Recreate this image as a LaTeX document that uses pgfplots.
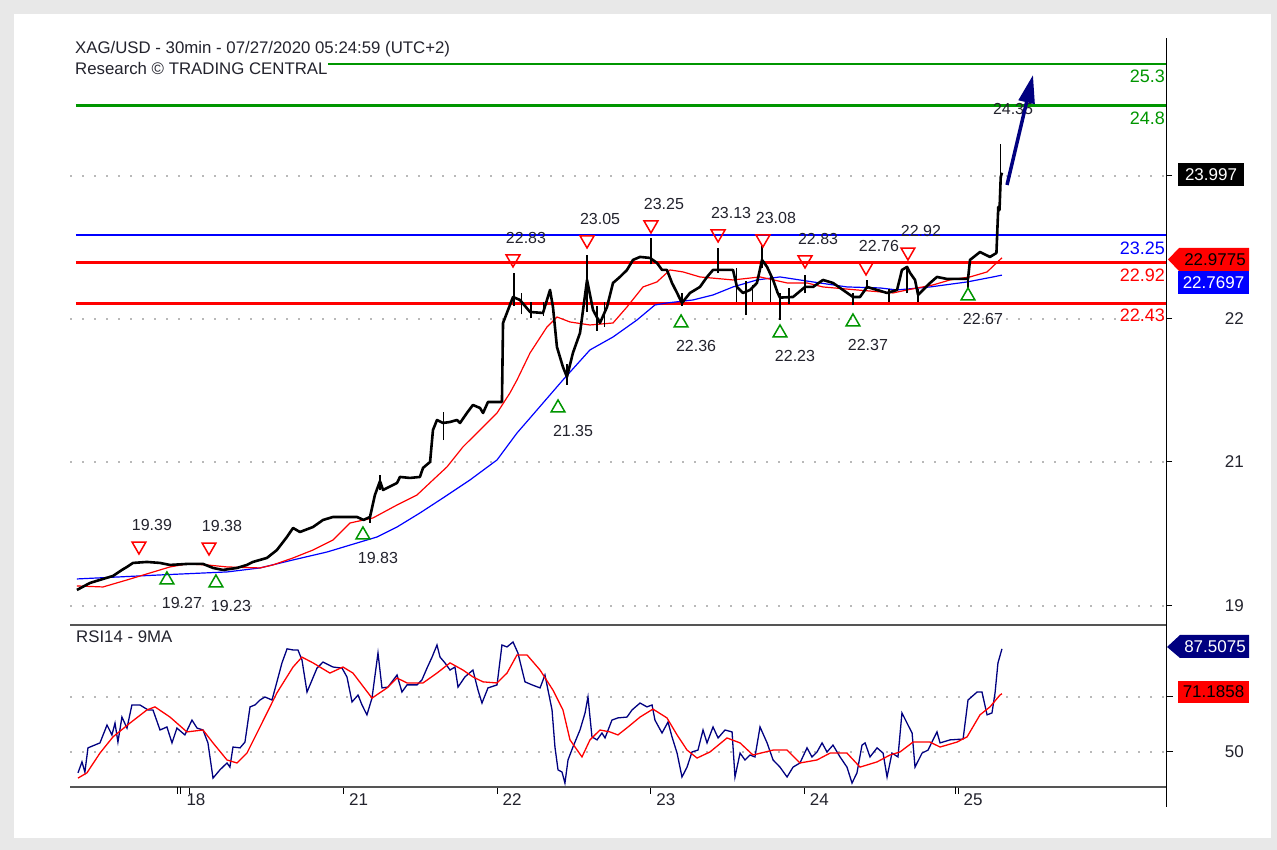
\documentclass[border=0pt]{standalone}
\usepackage{pgfplots}
\pgfplotsset{compat=1.18}
\usepackage{fontspec}
\setmainfont{Liberation Sans}
\usetikzlibrary{arrows.meta}
\definecolor{tcgreen}{RGB}{0,150,0}
\definecolor{tcblue}{RGB}{0,0,255}
\definecolor{tcred}{RGB}{255,0,0}
\definecolor{tcnavy}{RGB}{0,0,128}
\definecolor{framegray}{RGB}{232,232,232}
\definecolor{axgray}{RGB}{85,85,85}
\definecolor{txt}{RGB}{35,35,45}
\newcommand{\fA}{\fontsize{16}{18}\selectfont}
\newcommand{\fT}{\fontsize{16.8}{19}\selectfont}
\newcommand{\fB}{\fontsize{18}{20}\selectfont}
\newcommand{\fC}{\fontsize{17}{19}\selectfont}
\begin{document}
\begin{tikzpicture}[x=1pt,y=1pt]
\fill[framegray] (0,0) rectangle (1277,850);
\fill[white] (14,12) rectangle (1271,836);
% ================= upper panel =================
\begin{axis}[
  at={(70pt,225pt)}, anchor=south west, scale only axis,
  width=1096pt, height=587pt,
  xmin=-0.781, xmax=6.354, ymin=18.575, ymax=25.613,
  axis x line*=bottom, axis y line*=right,
  x axis line style={-, draw=axgray, line width=2pt},
  y axis line style={-, draw=black, line width=1pt},
  xtick=\empty,
  ytick={18.803,20.53,22.244,23.959}, yticklabels={},
  tick align=outside, major tick length=6pt,
  tick style={black, line width=1pt},
  ymajorgrids, grid style={gray!55, line width=1.6pt, dash pattern=on 1.6pt off 10.4pt},
  clip=false, unbounded coords=jump,
]
% support / resistance levels
\addplot[tcgreen, line width=2.8pt] coordinates {(0.898,25.3) (6.354,25.3)};
\addplot[tcgreen, line width=2.8pt] coordinates {(-0.742,24.8) (6.354,24.8)};
\addplot[tcblue, line width=2.8pt] coordinates {(-0.742,23.25) (6.354,23.25)};
\addplot[tcred, line width=2.8pt] coordinates {(-0.742,22.92) (6.354,22.92)};
\addplot[tcred, line width=2.8pt] coordinates {(-0.742,22.43) (6.354,22.43)};
% moving averages
\addplot[blue, line width=1.2pt] coordinates {
(-0.736,19.127) (-0.195,19.175) (0.241,19.211) (0.456,19.259) (0.671,19.355)
(0.892,19.450) (1.087,19.558) (1.217,19.630) (1.348,19.750) (1.497,19.918)
(1.647,20.098) (1.823,20.314) (1.999,20.554) (2.129,20.877) (2.214,21.057)
(2.428,21.513) (2.604,21.873) (2.754,22.028) (2.910,22.232) (3.027,22.412)
(3.105,22.436) (3.275,22.472) (3.405,22.532) (3.535,22.628) (3.691,22.712)
(3.841,22.748) (4.056,22.688) (4.277,22.628) (4.492,22.616) (4.603,22.592)
(4.818,22.628) (5.059,22.688) (5.228,22.748) (5.286,22.770)};
\addplot[red, line width=1.2pt] coordinates {
(-0.736,19.043) (-0.566,19.031) (-0.410,19.115) (-0.260,19.199) (-0.130,19.271)
(-0.020,19.307) (0.111,19.295) (0.241,19.271) (0.456,19.259) (0.540,19.295)
(0.671,19.379) (0.801,19.474) (0.931,19.594) (1.042,19.798) (1.191,19.858)
(1.348,20.014) (1.478,20.134) (1.582,20.314) (1.673,20.470) (1.777,20.710)
(1.888,20.913) (1.999,21.117) (2.083,21.357) (2.129,21.513) (2.214,21.837)
(2.324,22.148) (2.389,22.268) (2.474,22.208) (2.604,22.172) (2.754,22.196)
(2.845,22.388) (2.949,22.628) (3.040,22.688) (3.125,22.832) (3.210,22.808)
(3.320,22.748) (3.535,22.712) (3.711,22.748) (3.887,22.676) (4.017,22.676)
(4.121,22.628) (4.342,22.592) (4.577,22.556) (4.668,22.592) (4.837,22.652)
(4.948,22.712) (5.078,22.748) (5.189,22.808) (5.286,22.978)};
% price wicks (30 min high-low ranges)
\addplot[black, line width=1.2pt] coordinates {
(1.237,20.19) (1.237,20.374) (1.24,nan)
(1.172,19.80) (1.172,19.90) (1.18,nan)
(1.650,20.79) (1.650,21.13) (1.66,nan)
(2.109,22.40) (2.109,22.796) (2.11,nan)
(2.160,22.30) (2.160,22.55) (2.17,nan)
(2.220,22.25) (2.220,22.45) (2.23,nan)
(2.300,22.28) (2.300,22.45) (2.31,nan)
(2.454,21.453) (2.454,21.70) (2.46,nan)
(2.585,22.33) (2.585,23.012) (2.59,nan)
(2.650,22.10) (2.650,22.40) (2.66,nan)
(2.700,22.15) (2.700,22.45) (2.71,nan)
(3.001,22.90) (3.001,23.215) (3.01,nan)
(3.203,22.40) (3.203,22.55) (3.21,nan)
(3.438,22.80) (3.438,23.095) (3.44,nan)
(3.560,22.45) (3.560,22.85) (3.57,nan)
(3.620,22.29) (3.620,22.70) (3.63,nan)
(3.660,22.45) (3.660,22.65) (3.67,nan)
(3.724,22.85) (3.724,23.131) (3.73,nan)
(3.780,22.45) (3.780,22.80) (3.79,nan)
(3.841,22.232) (3.841,22.55) (3.85,nan)
(3.900,22.42) (3.900,22.62) (3.91,nan)
(4.004,22.55) (4.004,22.772) (4.01,nan)
(4.316,22.41) (4.316,22.55) (4.32,nan)
(4.408,22.60) (4.408,22.71) (4.41,nan)
(4.550,22.45) (4.550,22.60) (4.56,nan)
(4.668,22.55) (4.668,22.87) (4.67,nan)
(4.740,22.45) (4.740,22.60) (4.75,nan)
(5.065,22.59) (5.065,22.75) (5.07,nan)
(5.276,23.60) (5.276,24.342)};
% price (30 min closes)
\addplot[black, line width=2.6pt, line join=round] coordinates {
(-0.736,18.995) (-0.651,19.079) (-0.566,19.127) (-0.501,19.163) (-0.443,19.235)
(-0.410,19.271) (-0.371,19.319) (-0.280,19.331) (-0.195,19.319) (-0.130,19.295)
(-0.020,19.307) (0.085,19.307) (0.150,19.259) (0.215,19.235) (0.306,19.259)
(0.371,19.295) (0.410,19.331) (0.501,19.379) (0.566,19.474) (0.631,19.630)
(0.671,19.738) (0.716,19.690) (0.801,19.750) (0.866,19.834) (0.931,19.870)
(1.022,19.870) (1.087,19.870) (1.130,19.835) (1.172,19.870) (1.204,20.134)
(1.237,20.300) (1.257,20.194) (1.348,20.278) (1.367,20.350) (1.432,20.338)
(1.497,20.350) (1.517,20.458) (1.563,20.530) (1.582,20.913) (1.608,21.033)
(1.647,20.997) (1.693,21.009) (1.738,21.033) (1.758,20.997) (1.803,21.117)
(1.842,21.213) (1.888,21.177) (1.908,21.117) (1.940,21.249) (2.031,21.249)
(2.038,22.196) (2.103,22.508) (2.148,22.472) (2.214,22.328) (2.298,22.316)
(2.344,22.592) (2.363,22.388) (2.389,21.908) (2.428,21.669) (2.454,21.549)
(2.493,21.837) (2.539,22.076) (2.585,22.712) (2.624,22.352) (2.669,22.196)
(2.715,22.388) (2.754,22.676) (2.799,22.748) (2.845,22.832) (2.884,22.952)
(2.930,22.988) (2.995,22.976) (3.040,22.916) (3.073,22.832) (3.105,22.832)
(3.138,22.676) (3.171,22.556) (3.203,22.436) (3.255,22.556) (3.320,22.628)
(3.366,22.748) (3.405,22.832) (3.496,22.832) (3.535,22.832) (3.561,22.628)
(3.600,22.556) (3.646,22.592) (3.691,22.676) (3.724,22.952) (3.757,22.868)
(3.796,22.712) (3.826,22.556) (3.841,22.500) (3.926,22.508) (4.004,22.628)
(4.056,22.628) (4.121,22.712) (4.186,22.676) (4.251,22.592) (4.316,22.508)
(4.362,22.508) (4.408,22.628) (4.473,22.592) (4.538,22.556) (4.603,22.592)
(4.635,22.832) (4.668,22.868) (4.688,22.796) (4.720,22.712) (4.740,22.532)
(4.772,22.592) (4.818,22.676) (4.863,22.748) (4.928,22.724) (4.993,22.724)
(5.065,22.724) (5.078,22.952) (5.143,23.047) (5.208,22.988) (5.250,23.035)
(5.262,23.587) (5.270,23.550) (5.278,23.947) (5.286,23.997)};
% swing highs
\addplot[only marks, mark=triangle, mark size=8pt,
  mark options={draw=tcred, line width=1.5pt, rotate=180},
  nodes near coords, point meta=explicit symbolic,
  every node near coord/.append style={anchor=center, xshift=13pt, yshift=21pt, font=\fA, text=txt}]
  table[meta=lab] {
x y lab
-0.332 19.522 19.39
0.124 19.510 19.38
2.103 22.964 22.83
2.585 23.191 23.05
3.001 23.371 23.25
3.438 23.263 23.13
3.730 23.203 23.08
4.004 22.952 22.83
4.401 22.868 22.76
4.674 23.047 22.92
};
% swing lows
\addplot[only marks, mark=triangle, mark size=8pt,
  mark options={draw=tcgreen, line width=1.5pt},
  nodes near coords, point meta=explicit symbolic,
  every node near coord/.append style={anchor=center, xshift=15pt, yshift=-23pt, font=\fA, text=txt}]
  table[meta=lab] {
x y lab
-0.150 19.115 19.27
0.169 19.079 19.23
1.126 19.654 19.83
2.396 21.177 21.35
3.197 22.196 22.36
3.841 22.076 22.23
4.316 22.208 22.37
5.065 22.520 22.67
};
\node[font=\fA, text=txt] at (axis cs:5.358,24.762) {24.35};
\node[anchor=east, inner sep=1pt, text=tcgreen, font=\fB] at (axis cs:6.354,25.158) {25.3};
\node[anchor=east, inner sep=1pt, text=tcgreen, font=\fB] at (axis cs:6.354,24.648) {24.8};
\node[anchor=east, inner sep=1pt, text=tcblue, font=\fB] at (axis cs:6.354,23.089) {23.25};
\node[anchor=east, inner sep=1pt, text=tcred, font=\fB] at (axis cs:6.354,22.772) {22.92};
\node[anchor=east, inner sep=1pt, text=tcred, font=\fB] at (axis cs:6.354,22.286) {22.43};
\end{axis}
% ================= RSI panel =================
\begin{axis}[
  at={(70pt,63pt)}, anchor=south west, scale only axis,
  width=1096pt, height=162pt,
  xmin=-0.781, xmax=6.354, ymin=37.27, ymax=96.18,
  axis x line*=bottom, axis y line*=right,
  x axis line style={-, draw=axgray, line width=2pt},
  y axis line style={-, draw=black, line width=1pt},
  xtick={0,1,2,3,4,5}, xticklabels={\hspace{-9pt}18,21,22,23,24,25},
  extra x ticks={-0.08,-0.062,4.985}, extra x tick labels={},
  ytick={50,70}, yticklabels={},
  tick align=outside, major tick length=7pt,
  tick style={black, line width=1pt},
  xticklabel style={anchor=north west, xshift=2pt, yshift=4pt, font=\fC, text=txt},
  ymajorgrids, grid style={gray!55, line width=1.6pt, dash pattern=on 1.6pt off 10.4pt},
  clip=false,
]
\addplot[tcnavy, line width=1.3pt] coordinates {
(-0.729,42.4) (-0.703,46.4) (-0.684,42.7) (-0.664,51.5) (-0.586,53.3) (-0.540,59.8)
(-0.508,56.2) (-0.488,60.5) (-0.469,53.6) (-0.443,62.7) (-0.410,58.7) (-0.378,67.1)
(-0.326,67.1) (-0.273,65.3) (-0.241,65.3) (-0.195,58.0) (-0.150,59.1) (-0.117,53.3)
(-0.085,58.7) (-0.033,56.2) (0.013,61.6) (0.046,58.7) (0.085,58.0) (0.117,53.3)
(0.150,40.5) (0.195,43.5) (0.241,46.0) (0.260,44.5) (0.280,51.8) (0.326,51.5)
(0.358,53.6) (0.391,66.4) (0.423,67.1) (0.456,68.9) (0.488,70.0) (0.534,68.9)
(0.566,75.5) (0.599,82.4) (0.632,87.5) (0.671,87.1) (0.703,87.1) (0.729,83.5)
(0.762,71.8) (0.827,80.5) (0.866,82.7) (0.931,80.9) (0.990,80.5) (1.022,77.3)
(1.055,68.2) (1.094,70.7) (1.120,67.1) (1.152,63.5) (1.185,69.6) (1.224,86.0)
(1.250,73.3) (1.289,73.6) (1.348,78.0) (1.380,71.8) (1.413,74.4) (1.478,74.4)
(1.510,76.2) (1.543,80.5) (1.576,84.5) (1.608,88.9) (1.628,84.5) (1.660,82.4)
(1.693,79.8) (1.725,80.9) (1.745,73.6) (1.790,77.3) (1.842,79.8) (1.875,72.5)
(1.901,67.8) (1.940,73.3) (1.999,74.4) (2.031,88.9) (2.064,88.2) (2.103,90.0)
(2.135,86.0) (2.181,75.5) (2.227,74.4) (2.279,73.3) (2.311,78.0) (2.357,65.3)
(2.376,51.8) (2.396,43.5) (2.422,42.7) (2.441,38.7) (2.461,47.1) (2.493,51.8)
(2.539,58.0) (2.572,64.2) (2.591,70.0) (2.617,55.5) (2.650,54.4) (2.682,56.9)
(2.702,55.1) (2.747,61.6) (2.786,62.4) (2.845,62.7) (2.878,65.3) (2.930,67.8)
(2.975,66.4) (3.008,67.1) (3.027,61.6) (3.073,56.9) (3.112,60.9) (3.138,55.5)
(3.171,49.6) (3.203,40.9) (3.236,44.5) (3.268,50.0) (3.307,50.7) (3.340,58.0)
(3.366,53.3) (3.405,59.1) (3.438,55.1) (3.483,58.0) (3.529,57.3) (3.548,40.9)
(3.581,49.6) (3.613,47.1) (3.646,48.9) (3.678,48.2) (3.711,59.1) (3.757,53.3)
(3.796,47.1) (3.841,44.5) (3.887,40.9) (3.926,44.5) (3.971,46.0) (4.017,51.5)
(4.049,48.2) (4.082,50.0) (4.115,53.3) (4.147,50.0) (4.186,52.5) (4.232,48.2)
(4.277,44.5) (4.310,38.7) (4.342,42.4) (4.375,52.5) (4.395,53.3) (4.427,48.2)
(4.473,51.5) (4.512,49.6) (4.538,40.9) (4.570,49.6) (4.609,48.2) (4.635,64.2)
(4.668,60.5) (4.701,56.9) (4.720,44.5) (4.766,49.6) (4.805,50.7) (4.837,54.4)
(4.863,57.3) (4.883,53.3) (4.948,54.4) (5.033,54.7) (5.065,68.9) (5.124,71.8)
(5.156,71.8) (5.189,63.5) (5.221,64.2) (5.241,71.5) (5.260,82.4) (5.286,87.5)};
\addplot[red, line width=1.3pt] coordinates {
(-0.729,40.5) (-0.671,42.4) (-0.586,49.6) (-0.501,55.5) (-0.391,60.5) (-0.280,65.3)
(-0.228,66.4) (-0.130,62.7) (-0.020,57.3) (0.085,58.0) (0.150,53.3) (0.241,47.1)
(0.306,46.0) (0.371,49.6) (0.456,59.1) (0.566,71.5) (0.671,80.9) (0.729,84.5)
(0.801,82.4) (0.911,78.7) (0.996,80.9) (1.061,78.7) (1.185,69.6) (1.283,73.3)
(1.348,76.9) (1.413,75.1) (1.517,75.1) (1.608,78.7) (1.693,82.4) (1.777,79.8)
(1.842,77.3) (1.908,75.5) (1.999,75.1) (2.064,78.7) (2.129,85.3) (2.194,85.3)
(2.279,79.8) (2.363,72.5) (2.428,65.3) (2.474,54.4) (2.552,48.2) (2.604,54.4)
(2.669,58.0) (2.734,57.3) (2.786,56.2) (2.852,59.1) (2.930,62.7) (3.014,65.6)
(3.105,62.4) (3.171,56.2) (3.236,50.7) (3.301,47.8) (3.385,50.0) (3.496,55.1)
(3.581,53.3) (3.665,48.9) (3.796,50.7) (3.887,50.7) (3.971,46.0) (4.082,47.1)
(4.167,49.6) (4.277,49.6) (4.362,44.5) (4.473,46.4) (4.557,48.9) (4.622,50.0)
(4.707,53.6) (4.818,53.6) (4.883,51.8) (4.993,53.6) (5.059,55.5) (5.143,63.5)
(5.208,66.4) (5.273,70.7) (5.286,71.19)};
\end{axis}
% right axis extension below the RSI panel
\draw[black, line width=1pt] (1166,43) -- (1166,63);
% titles
\node[anchor=west, inner sep=0pt, font=\fT, text=txt] at (75,801) {XAG/USD - 30min - 07/27/2020 05:24:59 (UTC+2)};
\node[anchor=west, inner sep=0pt, font=\fT, text=txt] at (75,781) {Research © TRADING CENTRAL};
\node[anchor=west, inner sep=0pt, font=\fT, text=txt] at (76,213) {RSI14 - 9MA};
% y tick labels on the right
\node[anchor=east, inner sep=0pt, font=\fC, text=txt] at (1244,531) {22};
\node[anchor=east, inner sep=0pt, font=\fC, text=txt] at (1244,388) {21};
\node[anchor=east, inner sep=0pt, font=\fC, text=txt] at (1244,244) {19};
\node[anchor=east, inner sep=0pt, font=\fC, text=txt] at (1244,98) {50};
% value tags
\fill[black] (1178,664) rectangle (1244,687);
\node[font=\fC, text=white] at (1211,675.5) {23.997};
\fill[tcred] (1168,590.5) -- (1179,602) -- (1249,602) -- (1249,579) -- (1179,579) -- cycle;
\node[font=\fC, text=black] at (1215,590.5) {22.9775};
\fill[tcblue] (1178,556) rectangle (1249,579);
\node[font=\fC, text=white] at (1213.5,567.5) {22.7697};
\fill[tcnavy] (1167,203) -- (1180,215) -- (1249,215) -- (1249,192) -- (1180,192) -- cycle;
\node[font=\fC, text=white] at (1215,203.5) {87.5075};
\fill[tcred] (1178,147) rectangle (1249,169);
\node[font=\fC, text=black] at (1213.5,158) {71.1858};
% projection arrow
\draw[tcnavy, line width=3.5pt, -{Triangle[length=28pt,width=16pt]}] (1007,665) -- (1033,775);
\end{tikzpicture}
\end{document}
